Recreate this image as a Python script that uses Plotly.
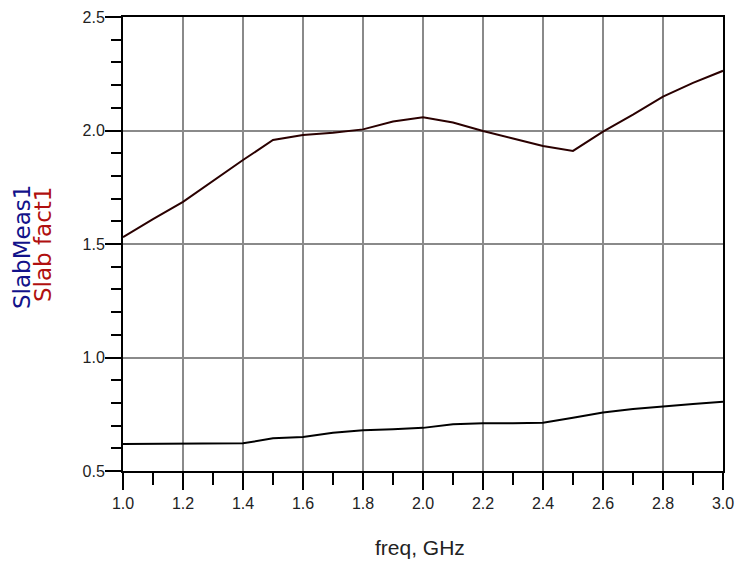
import plotly.graph_objects as go

freq_ghz = [1.0, 1.1, 1.2, 1.3, 1.4, 1.5, 1.6, 1.7, 1.8, 1.9, 2.0,
            2.1, 2.2, 2.3, 2.4, 2.5, 2.6, 2.7, 2.8, 2.9, 3.0]
slab_fact1 = [1.53, 1.61, 1.686, 1.78, 1.87, 1.958, 1.98, 1.99, 2.005, 2.04, 2.058,
              2.035, 1.998, 1.965, 1.932, 1.91, 1.995, 2.07, 2.149, 2.21, 2.263]
slab_meas1 = [0.619, 0.619, 0.619, 0.620, 0.622, 0.644, 0.650, 0.668, 0.680, 0.684, 0.690,
              0.706, 0.710, 0.710, 0.713, 0.735, 0.758, 0.773, 0.785, 0.795, 0.805]
x_ticks = [1.0, 1.2, 1.4, 1.6, 1.8, 2.0, 2.2, 2.4, 2.6, 2.8, 3.0]
y_ticks = [0.5, 1.0, 1.5, 2.0, 2.5]

W, H = 738, 562
L, R, T, B = 123, 15, 17, 91
pw, ph = W - L - R, H - T - B

def px(xp):
    return (xp - L) / pw

def py(yp):
    return (H - B - yp) / ph

fig = go.Figure()
fig.add_trace(go.Scatter(x=freq_ghz, y=slab_fact1, mode="lines", name="Slab fact1",
                         line=dict(color="#2a0000", width=2)))
fig.add_trace(go.Scatter(x=freq_ghz, y=slab_meas1, mode="lines", name="SlabMeas1",
                         line=dict(color="#000000", width=2)))

tickfont = dict(family="Liberation Sans, Arial, sans-serif", size=16, color="#222222")

fig.update_xaxes(range=[1.0, 3.0], tickmode="array", tickvals=x_ticks,
                 ticktext=[f"{v:.1f}" for v in x_ticks],
                 showgrid=True, gridcolor="#8a8a8a", gridwidth=2,
                 showline=True, linecolor="black", linewidth=2, mirror=True,
                 ticks="outside", ticklen=17, tickwidth=2, tickcolor="black",
                 minor=dict(dtick=0.1, ticks="outside", ticklen=12, tickwidth=2,
                            tickcolor="black", showgrid=False),
                 tickfont=tickfont, zeroline=False)
fig.update_yaxes(range=[0.5, 2.5], tickmode="array", tickvals=y_ticks,
                 ticktext=[f"{v:.1f}" for v in y_ticks],
                 showgrid=True, gridcolor="#8a8a8a", gridwidth=2,
                 showline=True, linecolor="black", linewidth=2, mirror=True,
                 ticks="outside", ticklen=16, tickwidth=2, tickcolor="black",
                 ticklabelstandoff=-3,
                 minor=dict(dtick=0.1, ticks="outside", ticklen=10, tickwidth=2,
                            tickcolor="black", showgrid=False),
                 tickfont=tickfont, zeroline=False)

fig.add_annotation(text="Slab fact1", xref="paper", yref="paper",
                   x=px(43), y=py(245), textangle=-90, showarrow=False,
                   xanchor="center", yanchor="middle",
                   font=dict(family="DejaVu Sans, sans-serif", size=23, color="#b01010"))
fig.add_annotation(text="SlabMeas1", xref="paper", yref="paper",
                   x=px(22), y=py(247), textangle=-90, showarrow=False,
                   xanchor="center", yanchor="middle",
                   font=dict(family="DejaVu Sans, sans-serif", size=23, color="#12128a"))
fig.add_annotation(text="freq, GHz", xref="paper", yref="paper",
                   x=px(420), y=py(547), showarrow=False,
                   xanchor="center", yanchor="middle",
                   font=dict(family="Liberation Sans, Arial, sans-serif", size=21, color="#222222"))

fig.update_layout(width=W, height=H, margin=dict(l=L, r=R, t=T, b=B, autoexpand=False),
                  paper_bgcolor="white", plot_bgcolor="white", showlegend=False)

fig.write_html("out.html", config={"displayModeBar": False},
               post_script="document.body.style.margin='0';document.body.style.overflow='hidden';")
